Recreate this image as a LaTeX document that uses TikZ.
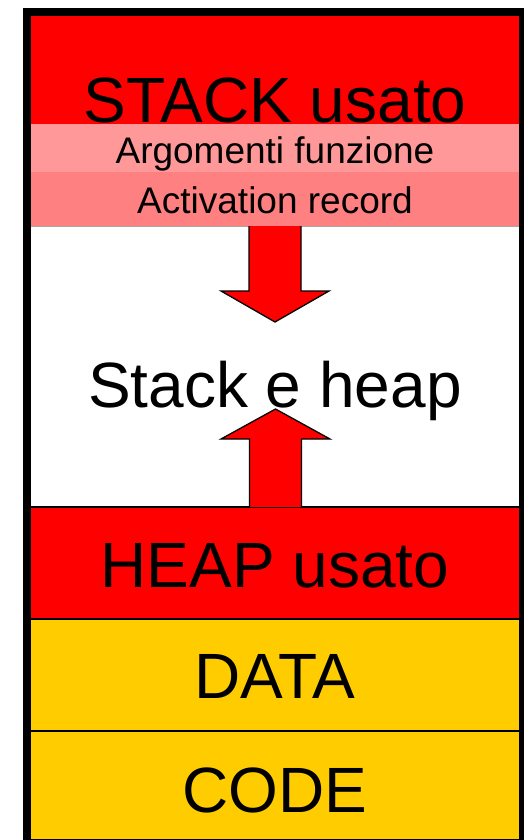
\documentclass[tikz,border=0pt]{standalone}
\usepackage{fontspec}
\setmainfont{Liberation Sans}
\definecolor{stackred}{RGB}{255,0,0}
\definecolor{argpink}{RGB}{255,153,153}
\definecolor{actpink}{RGB}{255,128,128}
\definecolor{segyellow}{RGB}{255,204,0}
\tikzset{
  big/.style={anchor=base, inner sep=0pt, font=\fontsize{64}{64}\selectfont},
  small/.style={anchor=base, inner sep=0pt, font=\fontsize{37}{37}\selectfont},
  sepline/.style={line width=2pt, black},
  blockarrow/.style={fill=stackred},
  arrowedge/.style={line width=1.3pt, black, line join=miter},
}
\begin{document}
\begin{tikzpicture}[x=1pt,y=-1pt]
\useasboundingbox (0,0) rectangle (524,840);
\clip (0,0) rectangle (524,840);

% memory segments, top to bottom
\fill[stackred]  (31,16)  rectangle (519,124);
\fill[argpink]   (31,124) rectangle (519,172);
\fill[actpink]   (31,172) rectangle (519,226);
\fill[white]     (31,226) rectangle (519,507);
\fill[stackred]  (31,507) rectangle (519,619);
\fill[segyellow] (31,619) rectangle (519,731);
\fill[segyellow] (31,731) rectangle (519,839);

% boundaries between segments
\draw[gray!70, line width=1pt] (31,226) -- (519,226);
\draw[sepline] (31,507) -- (519,507);
\draw[sepline] (31,619) -- (519,619);
\draw[sepline] (31,731) -- (519,731);
\draw[line width=1pt] (31,839) -- (519,839);

% stack grows downwards
\fill[blockarrow] (249,226) -- (249,291) -- (221,291) -- (275,322) -- (329,291) -- (301,291) -- (301,226) -- cycle;
\draw[arrowedge] (249,226) -- (249,291) -- (221,291) -- (275,322) -- (329,291) -- (301,291) -- (301,226);

% heap grows upwards
\fill[blockarrow] (249.5,507) -- (249.5,439) -- (221,439) -- (275.5,409) -- (330,439) -- (301.5,439) -- (301.5,507) -- cycle;
\draw[arrowedge] (249.5,507) -- (249.5,439) -- (221,439) -- (275.5,409) -- (330,439) -- (301.5,439) -- (301.5,507);

% labels
\node[big]   (stack) at (275,123) {STACK usato};
\node[small] (args)  at (275,163) {Argomenti funzione};
\node[small] (act)   at (275,213) {Activation record};
\node[big]   (free)  at (275,407) {Stack e heap};
\node[big]   (heap)  at (275,587) {HEAP usato};
\node[big]   (data)  at (275,698) {DATA};
\node[big]   (code)  at (275,812) {CODE};

% outer frame
\draw[line width=8pt] (27,850) -- (27,12.5) -- (523,12.5) -- (523,850);
\end{tikzpicture}
\end{document}
